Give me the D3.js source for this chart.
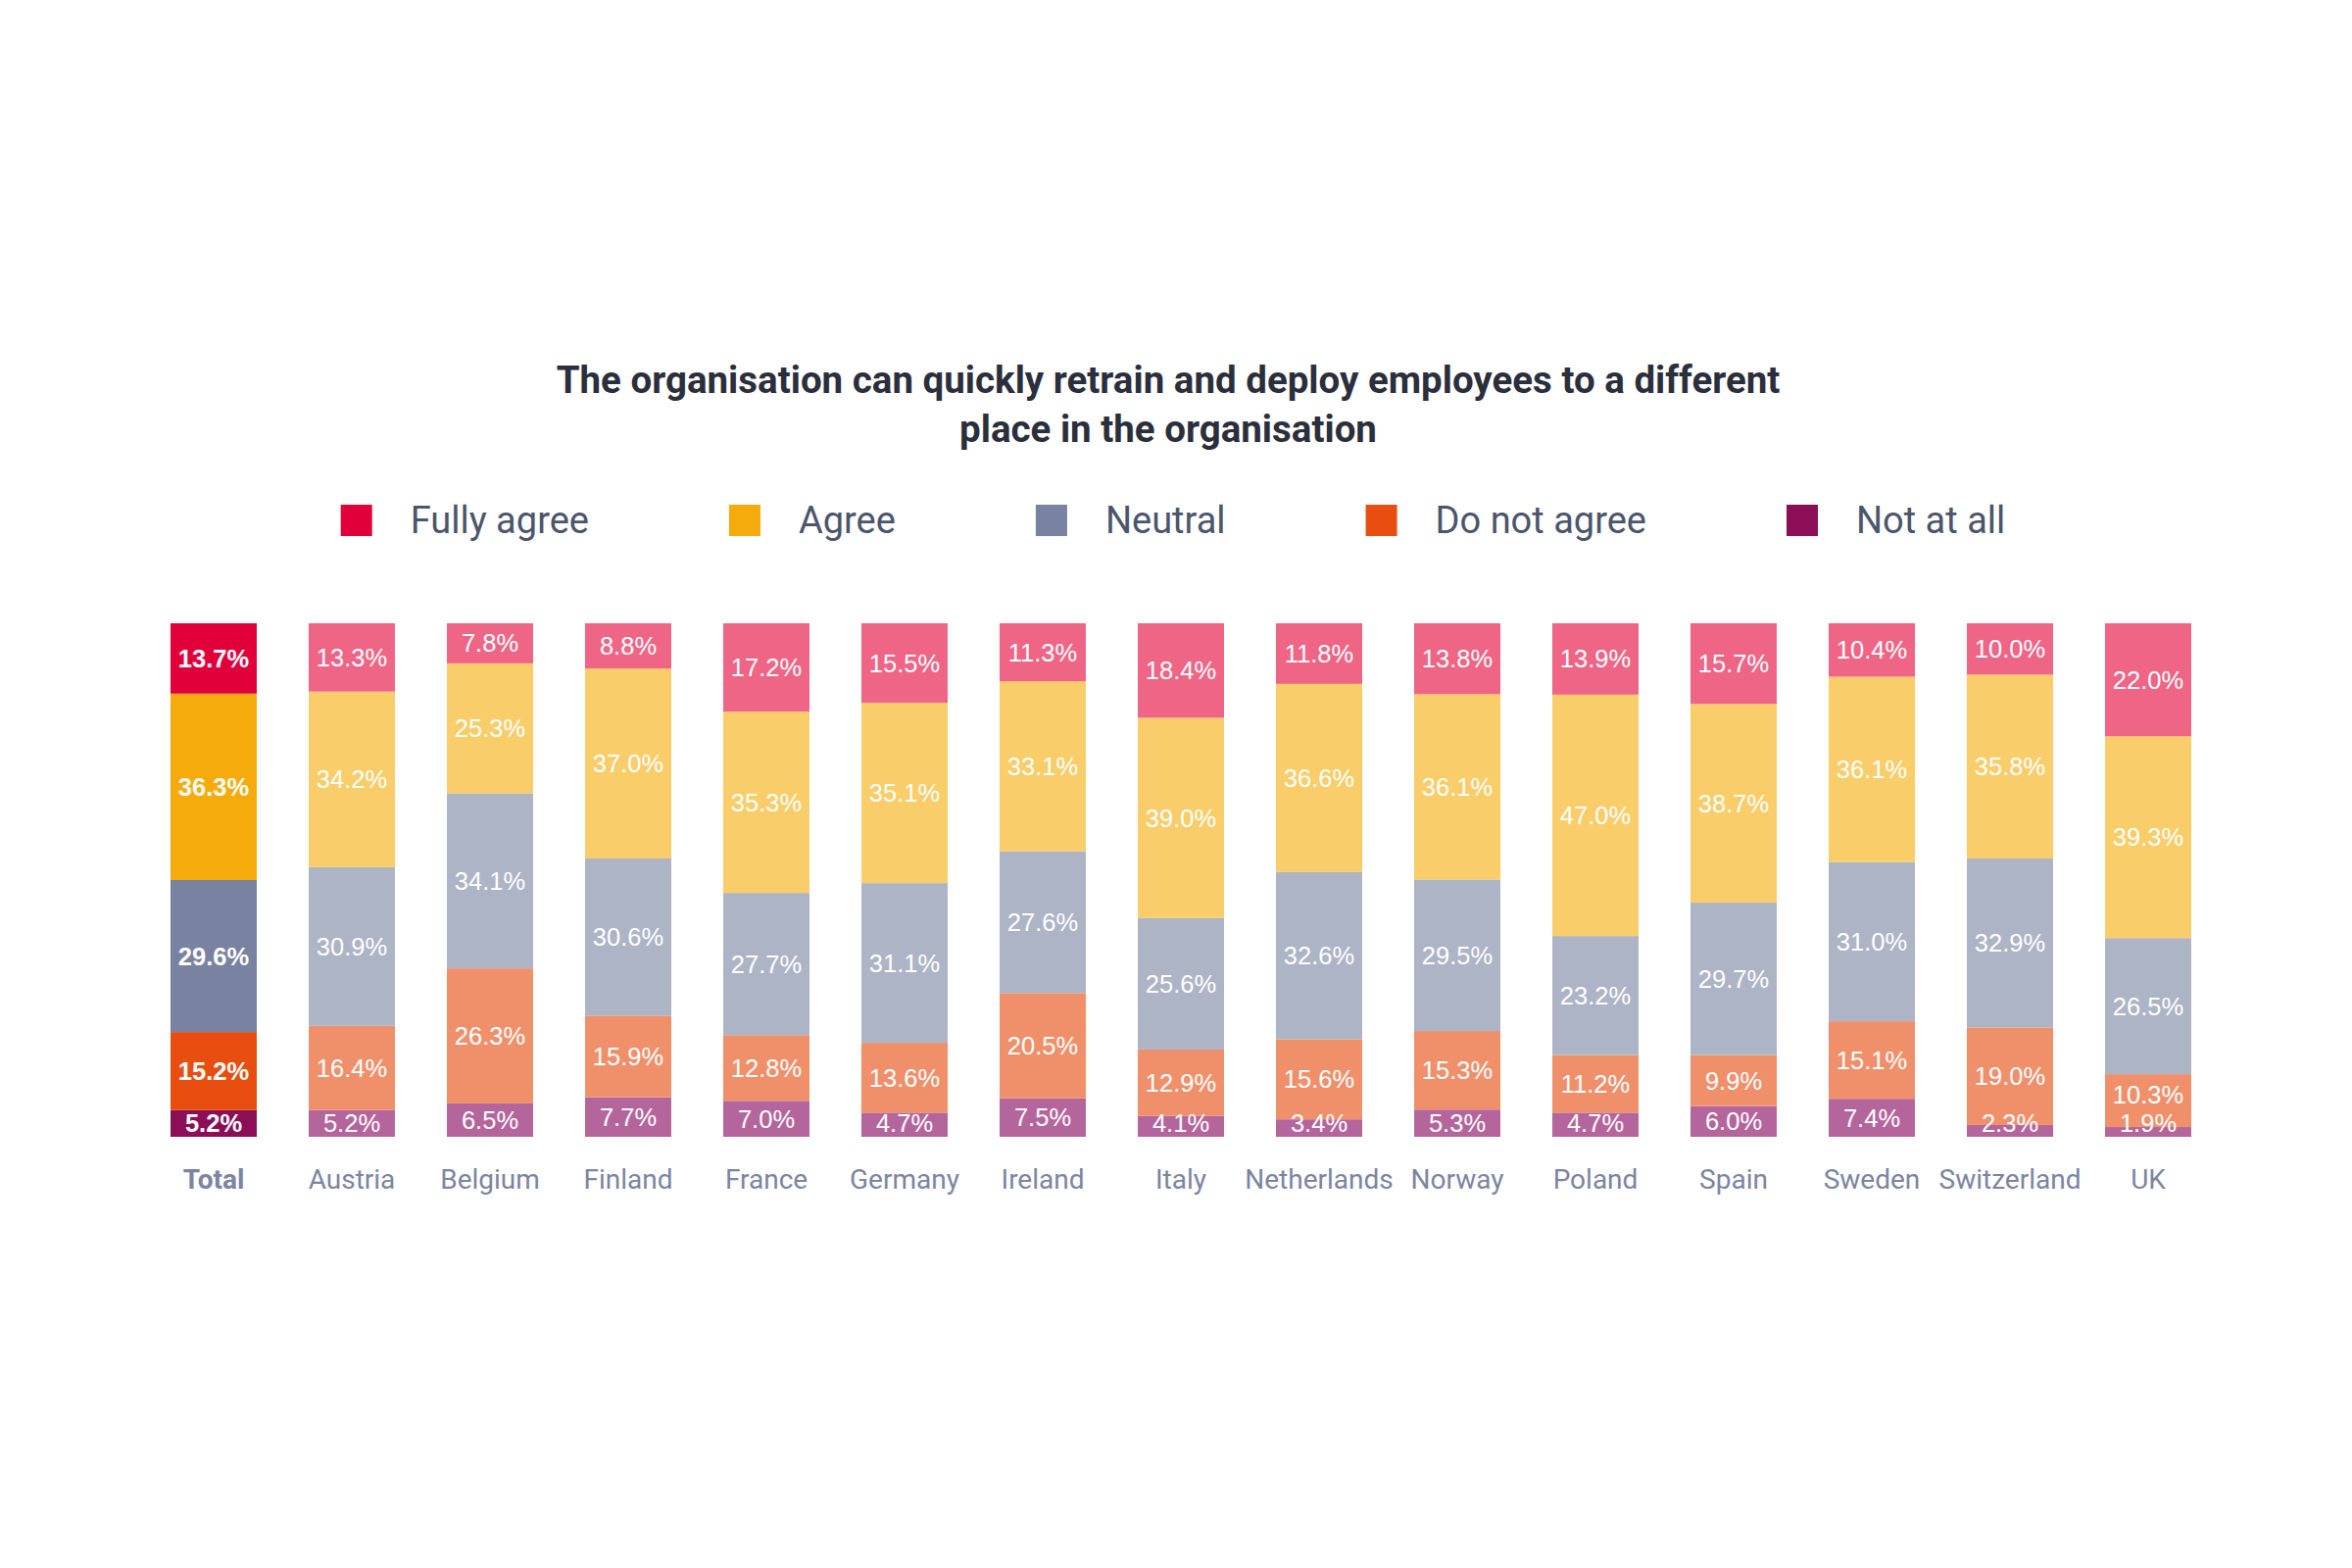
<!DOCTYPE html>
<html>
<head>
<meta charset="utf-8">
<script src="https://cdn.jsdelivr.net/npm/d3@7"></script>
<style>
  body { margin: 0; background: #fff; }
  svg { display: block; }
</style>
</head>
<body>
<div id="chart"></div>
<script>
// data
var countries = ["Total", "Austria", "Belgium", "Finland", "France", "Germany", "Ireland", "Italy",
                 "Netherlands", "Norway", "Poland", "Spain", "Sweden", "Switzerland", "UK"];
var answers = ["Fully agree", "Agree", "Neutral", "Do not agree", "Not at all"];

var fullyAgree = [13.7, 13.3, 7.8, 8.8, 17.2, 15.5, 11.3, 18.4, 11.8, 13.8, 13.9, 15.7, 10.4, 10.0, 22.0];
var agree      = [36.3, 34.2, 25.3, 37.0, 35.3, 35.1, 33.1, 39.0, 36.6, 36.1, 47.0, 38.7, 36.1, 35.8, 39.3];
var neutral    = [29.6, 30.9, 34.1, 30.6, 27.7, 31.1, 27.6, 25.6, 32.6, 29.5, 23.2, 29.7, 31.0, 32.9, 26.5];
var notAgree   = [15.2, 16.4, 26.3, 15.9, 12.8, 13.6, 20.5, 12.9, 15.6, 15.3, 11.2, 9.9, 15.1, 19.0, 10.3];
var notAtAll   = [5.2, 5.2, 6.5, 7.7, 7.0, 4.7, 7.5, 4.1, 3.4, 5.3, 4.7, 6.0, 7.4, 2.3, 1.9];

var darkColors  = ["#e2003b", "#f6ab0d", "#7a82a1", "#e84e10", "#8b0e57"];
var lightColors = ["#ef6586", "#f9cd69", "#adb4c6", "#f0906b", "#b4669c"];

var width = 2400, height = 1600;

var svg = d3.select("#chart")
  .append("svg")
    .attr("width", width)
    .attr("height", height);

svg.append("rect").attr("width", width).attr("height", height).attr("fill", "#fff");

// title
var title = svg.append("text")
    .attr("x", 1192)
    .attr("text-anchor", "middle")
    .style("font-family", "Roboto")
    .style("font-weight", "bold")
    .style("font-size", "38.5px")
    .style("fill", "#2b2f3b");
title.append("tspan").attr("x", 1192).attr("y", 401)
    .text("The organisation can quickly retrain and deploy employees to a different");
title.append("tspan").attr("x", 1192).attr("y", 451)
    .text("place in the organisation");

// build the rows for the stack
var table = countries.map(function(c, i) {
  return {
    country: c,
    "Fully agree": fullyAgree[i],
    "Agree": agree[i],
    "Neutral": neutral[i],
    "Do not agree": notAgree[i],
    "Not at all": notAtAll[i]
  };
});

// bottom of the stack is "Not at all"
var stack = d3.stack().keys(answers.slice().reverse());
var series = stack(table);

var x = d3.scaleBand()
    .domain(countries)
    .range([147.5, 2262.5])
    .paddingInner(0.376)
    .paddingOuter(0.188);

var y = d3.scaleLinear()
    .domain([0, 100])
    .range([1160, 636]);

// label centre: middle of the segment, kept inside the plot and
// pushed up a bit when it would sit on the label below it
var segments = [];
var lastLabel = {};
series.forEach(function(s) {
  s.forEach(function(d) {
    d.key = s.key;
    var c = d.data.country;
    var ly = Math.min((y(d[0]) + y(d[1])) / 2, y(0) - 14);
    if (lastLabel[c] !== undefined && lastLabel[c] - ly < 29) ly = lastLabel[c] - 29;
    lastLabel[c] = ly;
    d.labelY = ly;
    segments.push(d);
  });
});

svg.append("defs").append("clipPath")
    .attr("id", "plotclip")
  .append("rect")
    .attr("x", 0).attr("y", y(100))
    .attr("width", width).attr("height", y(0) - y(100));

var plot = svg.append("g").attr("clip-path", "url(#plotclip)");

plot.append("g").selectAll("rect")
  .data(segments)
  .enter().append("rect")
    .attr("x", function(d) { return x(d.data.country); })
    .attr("width", x.bandwidth())
    .attr("y", function(d) { return y(d[1]); })
    .attr("height", function(d) { return y(d[0]) - y(d[1]); })
    .attr("fill", function(d) {
      var k = answers.indexOf(d.key);
      return d.data.country == "Total" ? darkColors[k] : lightColors[k];
    });

plot.append("g").selectAll("text")
  .data(segments)
  .enter().append("text")
    .attr("x", function(d) { return x(d.data.country) + x.bandwidth() / 2; })
    .attr("y", function(d) { return d.labelY + 9; })
    .attr("text-anchor", "middle")
    .style("font-family", "'Liberation Sans', Arial, sans-serif")
    .style("font-size", "25.5px")
    .style("font-weight", function(d) { return d.data.country == "Total" ? "bold" : "normal"; })
    .style("fill", "#fff")
    .text(function(d) { return d3.format(".1f")(d[1] - d[0]) + "%"; });

// category axis
var xAxis = svg.append("g")
    .attr("transform", "translate(0," + y(0) + ")")
    .call(d3.axisBottom(x).tickSize(0));
xAxis.select(".domain").remove();
xAxis.selectAll("text")
    .style("font-family", "Roboto")
    .style("font-size", "28px")
    .style("fill", "#7c84a2")
    .style("font-weight", function(d) { return d == "Total" ? "bold" : "normal"; })
    .attr("dy", 0)
    .attr("y", 53);

// legend
var legend = svg.append("g");
var lx = 0;
answers.forEach(function(a, i) {
  var item = legend.append("g").attr("transform", "translate(" + lx + ",0)");
  item.append("rect")
      .attr("x", 0).attr("y", 515)
      .attr("width", 32).attr("height", 32)
      .attr("fill", darkColors[i]);
  var t = item.append("text")
      .attr("x", 71).attr("y", 544)
      .style("font-family", "Roboto")
      .style("font-size", "38px")
      .style("fill", "#4b556b")
      .text(a);
  lx += 71 + t.node().getComputedTextLength() + 143;
});
var legendWidth = lx - 143;
legend.attr("transform", "translate(" + (1197 - legendWidth / 2) + ",0)");
</script>
</body>
</html>
